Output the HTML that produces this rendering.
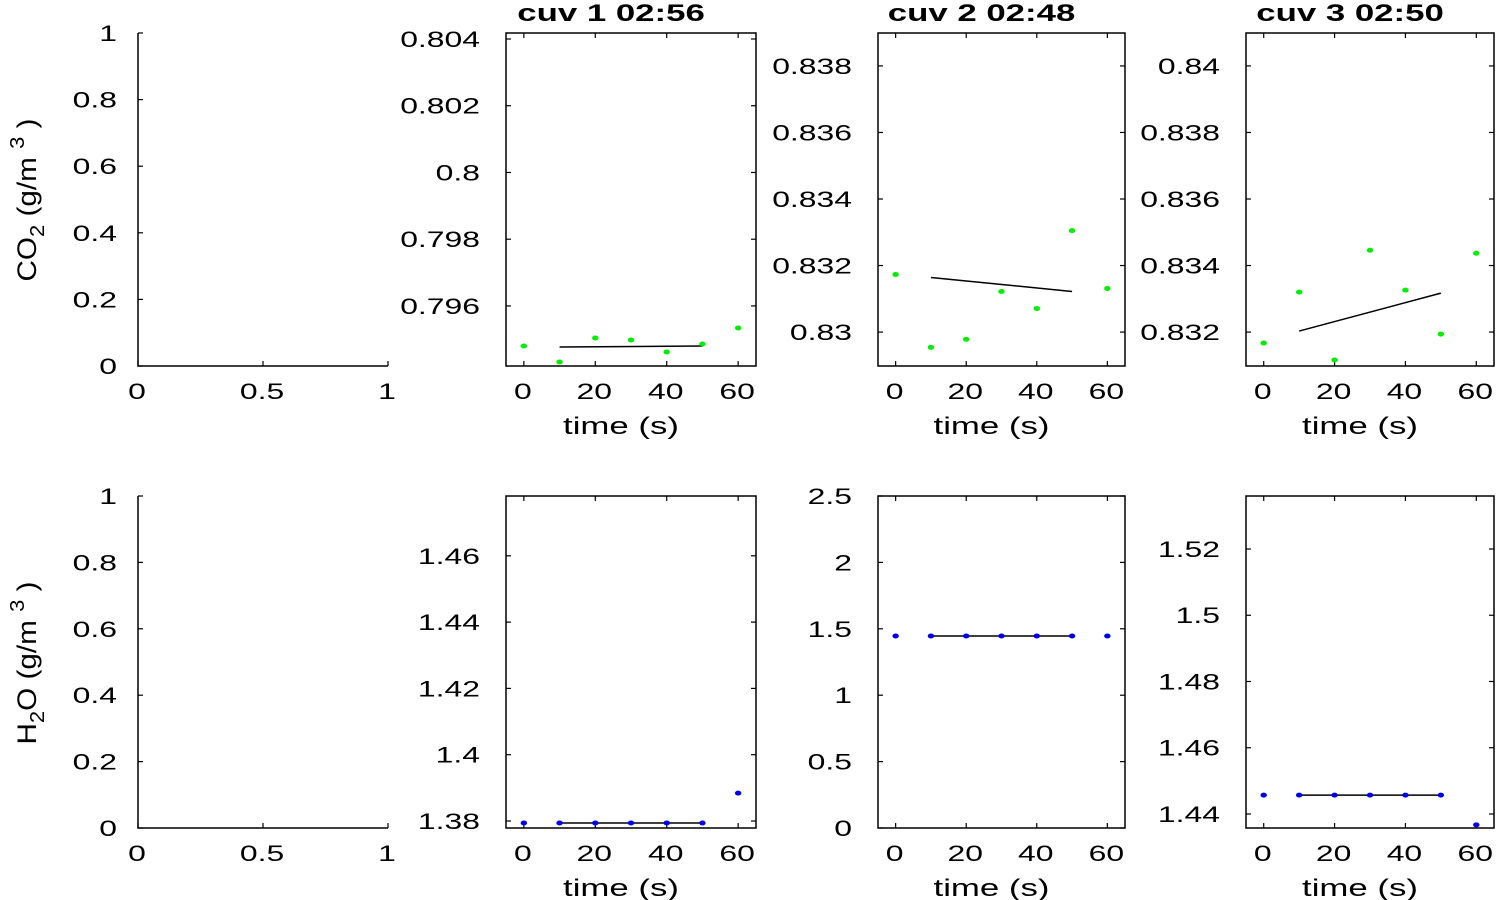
<!DOCTYPE html>
<html><head><meta charset="utf-8"><style>
html,body{margin:0;padding:0;background:#fff;}
svg{display:block;font-family:"Liberation Sans",sans-serif;}
</style></head><body>
<svg id="chart" width="1500" height="900"></svg>
<script>
const xTicks = [0,20,40,60];
const timeX = [0,10,20,30,40,50,60];
const co2Cuv1 = [0.7948,0.79432,0.79504,0.79498,0.79462,0.79486,0.79534];
const co2Cuv1Fit = [0.79477,0.79480];
const co2Cuv2 = [0.83173,0.82954,0.82978,0.83122,0.83071,0.83305,0.83131];
const co2Cuv2Fit = [0.83164,0.83122];
const co2Cuv3 = [0.83167,0.8332,0.83116,0.83446,0.83326,0.83194,0.83437];
const co2Cuv3Fit = [0.83203,0.83317];
const h2oCuv1 = [1.3794,1.3794,1.3794,1.3794,1.3794,1.3794,1.3884];
const h2oCuv1Fit = [1.3794,1.3794];
const h2oCuv2 = [1.446,1.446,1.446,1.446,1.446,1.446,1.446];
const h2oCuv2Fit = [1.446,1.446];
const h2oCuv3 = [1.4457,1.4457,1.4457,1.4457,1.4457,1.4457,1.4367];
const h2oCuv3Fit = [1.4457,1.4457];
const fitX = [10,50];
const titles = ["cuv 1 02:56","cuv 2 02:48","cuv 3 02:50"];
const tickCo2_1 = [0.796,0.798,0.8,0.802,0.804];
const tickCo2_2 = [0.83,0.832,0.834,0.836,0.838];
const tickCo2_3 = [0.832,0.834,0.836,0.838,0.84];
const tickH2o_1 = [1.38,1.4,1.42,1.44,1.46];
const tickH2o_2 = [0,0.5,1,1.5,2,2.5];
const tickH2o_3 = [1.44,1.46,1.48,1.5,1.52];
const emptyTicks = [0,0.2,0.4,0.6,0.8,1];
const emptyXTicks = [0,0.5,1];

const NS="http://www.w3.org/2000/svg";
const svg=document.getElementById('chart');
const SX=1.45;
function mk(tag,attrs,parent){const e=document.createElementNS(NS,tag);for(const k in attrs)e.setAttribute(k,attrs[k]);(parent||svg).appendChild(e);return e;}
function fmt(v){return String(+v.toFixed(4));}
function txt(g,x,y,anchor,size,bold){
  return mk('text',{transform:`translate(${x},${y}) scale(${SX},1)`,x:0,y:0,'text-anchor':anchor,'font-size':size,'font-weight':bold?'bold':'normal'},g);
}

function panel(name,x0,x1,y0,y1,xmin,xmax,ymin,ymax,xt,yt,full,pts,fit,color,title){
  const g=mk('g',{});
  
  
  const sx=v=>x0+(v-xmin)/(xmax-xmin)*(x1-x0);
  const sy=v=>y1-(v-ymin)/(ymax-ymin)*(y1-y0);
  if(full){
    const r=mk('rect',{x:x0,y:y0,width:x1-x0,height:y1-y0,fill:'none',stroke:'#000','stroke-width':1.5},g);
    
    
  } else {
    const a=mk('path',{d:`M${x0},${y0}V${y1}H${x1}`,fill:'none',stroke:'#000','stroke-width':1.5},g);
    
    
  }
  xt.forEach(v=>{
    const X=sx(v);
    mk('line',{x1:X,x2:X,y1:y1,y2:y1-5,stroke:'#000','stroke-width':1.2},g);
    if(full) mk('line',{x1:X,x2:X,y1:y0,y2:y0+5,stroke:'#000','stroke-width':1.2},g);
    const t=txt(g,X-1,y1+33,'middle',22);
    t.textContent=fmt(v);
    
    
  });
  yt.forEach(v=>{
    const Y=sy(v);
    mk('line',{x1:x0,x2:x0+5,y1:Y,y2:Y,stroke:'#000','stroke-width':1.2},g);
    if(full) mk('line',{x1:x1,x2:x1-5,y1:Y,y2:Y,stroke:'#000','stroke-width':1.2},g);
    const t=txt(g,x0-(full?26:21),Y+8,'end',22);
    t.textContent=fmt(v);
    
    
  });
  if(fit){
    const l=mk('line',{x1:sx(fitX[0]),x2:sx(fitX[1]),y1:sy(fit[0]),y2:sy(fit[1]),stroke:'#000','stroke-width':1.5},g);
    
    
  }
  if(pts){
    pts.forEach((v,i)=>{
      const c=mk('ellipse',{cx:sx(timeX[i]),cy:sy(v),rx:3.2,ry:2.5,fill:color},g);
      
      
    });
  }
  if(full){
    const t=txt(g,(x0+x1)/2-10,y1+68,'middle',24);
    t.textContent='time (s)';
    
    
  }
  if(title){
    const t=txt(g,(x0+x1)/2-20,y0-12,'middle',24,true);
    t.textContent=title;
    
    
  }
}
const R1=[33,366], R2=[496,828];
panel('empty-co2-panel',138,388,R1[0],R1[1],0,1,0,1,emptyXTicks,emptyTicks,false,null,null,null,null);
panel('co2-cuv1-panel',506,756,R1[0],R1[1],-5,65,0.7942,0.80418,xTicks,tickCo2_1,true,co2Cuv1,co2Cuv1Fit,'#00ee00',titles[0]);
panel('co2-cuv2-panel',878,1125,R1[0],R1[1],-5,65,0.82898,0.83899,xTicks,tickCo2_2,true,co2Cuv2,co2Cuv2Fit,'#00ee00',titles[1]);
panel('co2-cuv3-panel',1246,1494,R1[0],R1[1],-5,65,0.83098,0.84099,xTicks,tickCo2_3,true,co2Cuv3,co2Cuv3Fit,'#00ee00',titles[2]);
panel('empty-h2o-panel',138,388,R2[0],R2[1],0,1,0,1,emptyXTicks,emptyTicks,false,null,null,null,null);
panel('h2o-cuv1-panel',506,756,R2[0],R2[1],-5,65,1.37789,1.47804,xTicks,tickH2o_1,true,h2oCuv1,h2oCuv1Fit,'#0000ee',null);
panel('h2o-cuv2-panel',878,1125,R2[0],R2[1],-5,65,0,2.5,xTicks,tickH2o_2,true,h2oCuv2,h2oCuv2Fit,'#0000ee',null);
panel('h2o-cuv3-panel',1246,1494,R2[0],R2[1],-5,65,1.43577,1.536,xTicks,tickH2o_3,true,h2oCuv3,h2oCuv3Fit,'#0000ee',null);

function ylab(name,cy,main,sub,rest,sup){
  const t=mk('text',{transform:`translate(36,${cy}) rotate(-90) scale(1.1,1)`,'text-anchor':'middle','font-size':27});
  
  
  const a=mk('tspan',{},t);a.textContent=main;
  const b=mk('tspan',{dy:8,'font-size':20},t);b.textContent=sub;
  const c=mk('tspan',{dy:-8},t);c.textContent=rest;
  const d=mk('tspan',{dy:-12,'font-size':20},t);d.textContent=sup;
  const e=mk('tspan',{dy:12},t);e.textContent=' )';
}
ylab('co2-y-axis-title',200,'CO','2',' (g/m ','3');
ylab('h2o-y-axis-title',663,'H','2','O (g/m ','3');
</script>
</body></html>
